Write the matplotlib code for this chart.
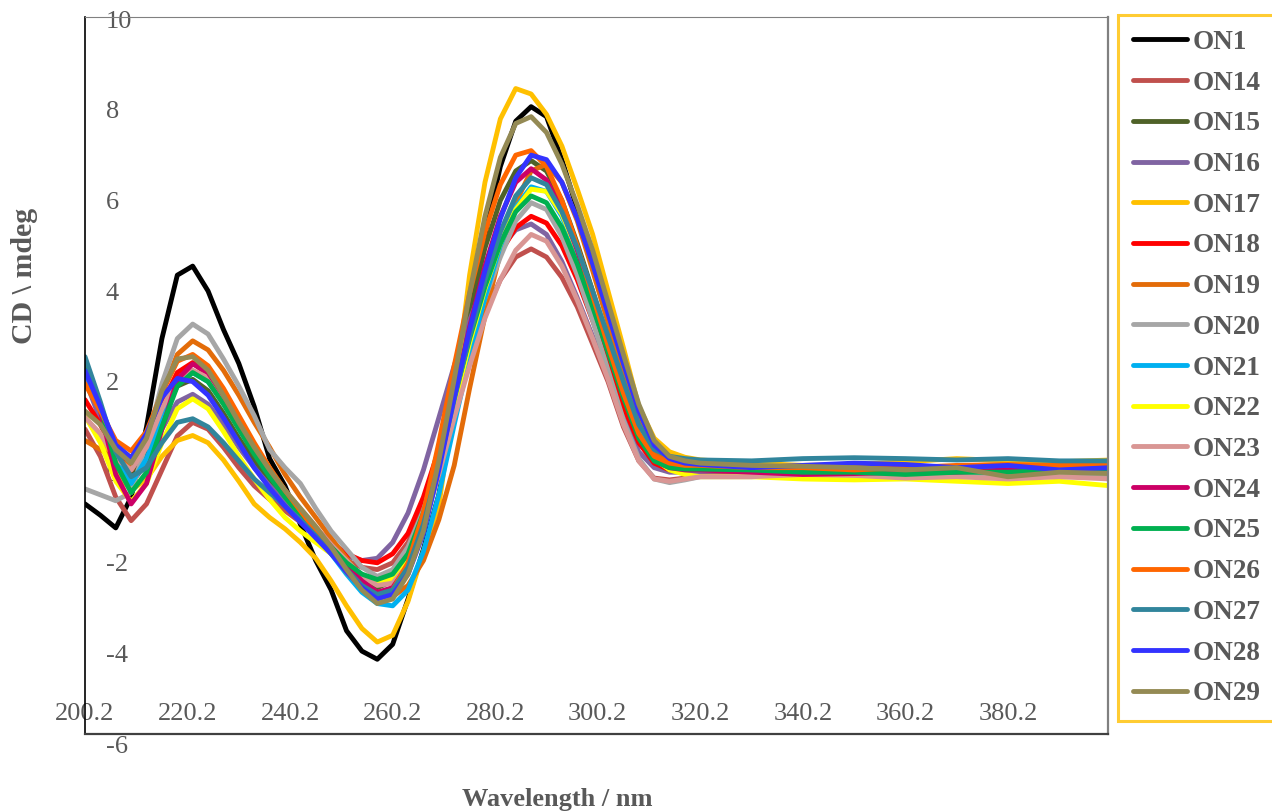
import matplotlib.pyplot as plt
import numpy as np

plt.rcParams['font.family'] = ['Liberation Serif', 'DejaVu Serif']

# longitudes de onda (nm): paso de 3 nm en las bandas, 10 nm en la cola plana
wl = np.concatenate([np.arange(200.2, 320.3, 3.0), np.arange(330.2, 400.3, 10.0)])

nombres = ["ON1", "ON14", "ON15", "ON16", "ON17", "ON18", "ON19", "ON20", "ON21",
           "ON22", "ON23", "ON24", "ON25", "ON26", "ON27", "ON28", "ON29"]
colores = ["#000000", "#C0504D", "#4F6228", "#8064A2", "#FFC000", "#FF0000", "#E36C09",
           "#A6A6A6", "#00B0F0", "#FFFF00", "#D99694", "#CC0066", "#00B050", "#FF6600",
           "#31859C", "#3333FF", "#948A54"]

# CD (mdeg)
on1 = [-0.75, -1.0, -1.28, -0.6, 0.95, 2.9, 4.3, 4.5, 3.95, 3.1, 2.35, 1.4, 0.25, -0.35, -1.2,
       -2.0, -2.65, -3.55, -4.0, -4.18, -3.85, -2.85, -1.75, -0.55, 1.3, 3.3, 5.2, 6.7, 7.7,
       8.02, 7.8, 6.85, 5.75, 4.6, 3.4, 2.2, 1.05, 0.42, 0.18, 0.1, 0.06,
       0.05, 0.0, 0.02, 0.05, 0.0, 0.05, 0.0, 0.05]
on14 = [0.9, 0.3, -0.6, -1.12, -0.75, 0.0, 0.75, 1.05, 0.9, 0.5, 0.05, -0.35, -0.65, -0.9, -1.15,
        -1.45, -1.75, -2.0, -2.15, -2.2, -2.05, -1.6, -0.85, 0.2, 1.35, 2.45, 3.45, 4.2, 4.7,
        4.88, 4.7, 4.25, 3.6, 2.78, 1.95, 0.95, 0.2, -0.18, -0.22, -0.18, -0.12,
        -0.1, -0.08, -0.05, 0.0, 0.05, 0.1, 0.08, 0.12]
on15 = [2.2, 1.3, 0.3, -0.15, 0.4, 1.2, 1.85, 2.0, 1.75, 1.25, 0.7, 0.2, -0.25, -0.6, -0.95,
        -1.3, -1.65, -2.05, -2.4, -2.6, -2.45, -1.95, -1.05, 0.2, 1.9, 3.5, 4.9, 5.95, 6.6,
        6.83, 6.6, 5.95, 5.0, 3.95, 2.85, 1.8, 0.9, 0.35, 0.2, 0.15, 0.12,
        0.1, 0.05, 0.05, 0.08, 0.05, 0.02, 0.05, 0.05]
on16 = [2.0, 1.1, 0.2, -0.3, 0.15, 0.9, 1.5, 1.67, 1.45, 1.0, 0.5, 0.05, -0.35, -0.7, -1.05,
        -1.4, -1.7, -1.9, -2.0, -1.95, -1.6, -0.95, 0.0, 1.15, 2.3, 3.3, 4.2, 4.9, 5.3,
        5.43, 5.2, 4.6, 3.8, 2.95, 2.05, 1.15, 0.4, 0.05, -0.05, -0.05, -0.03,
        0.0, -0.02, 0.0, 0.0, -0.05, 0.0, 0.0, -0.02]
on17 = [1.2, 0.65, -0.05, -0.45, -0.2, 0.3, 0.65, 0.76, 0.6, 0.22, -0.25, -0.75, -1.05, -1.3,
        -1.6, -1.95, -2.45, -3.0, -3.5, -3.8, -3.65, -2.9, -1.8, -0.8, 1.6, 4.3, 6.35, 7.75,
        8.42, 8.3, 7.85, 7.15, 6.2, 5.2, 3.95, 2.7, 1.4, 0.7, 0.4, 0.28, 0.22,
        0.15, 0.1, 0.12, 0.18, 0.25, 0.2, 0.18, 0.22]
on18 = [1.55, 1.0, 0.35, 0.0, 0.55, 1.45, 2.15, 2.37, 2.1, 1.55, 0.95, 0.4, -0.1, -0.55, -0.95,
        -1.3, -1.6, -1.85, -2.0, -2.05, -1.85, -1.4, -0.6, 0.45, 1.7, 2.9, 3.95, 4.8, 5.35,
        5.6, 5.45, 4.95, 4.2, 3.3, 2.35, 1.4, 0.6, 0.15, 0.0, 0.0, 0.02,
        0.0, -0.05, 0.0, -0.03, 0.0, 0.02, 0.0, 0.0]
on19 = [0.65, 0.45, 0.2, 0.1, 0.65, 1.7, 2.55, 2.85, 2.65, 2.2, 1.65, 1.05, 0.5, -0.1, -0.6,
        -1.05, -1.5, -1.95, -2.4, -2.75, -2.8, -2.55, -2.0, -1.1, 0.1, 1.8, 3.4, 4.8, 5.9,
        6.6, 6.75, 6.35, 5.5, 4.4, 3.25, 2.1, 1.05, 0.4, 0.15, 0.1, 0.08,
        0.05, 0.0, 0.05, 0.08, 0.05, 0.1, 0.05, 0.1]
on20 = [-0.42, -0.55, -0.68, -0.5, 0.6, 1.9, 2.9, 3.22, 3.0, 2.45, 1.85, 1.2, 0.45, 0.05, -0.3,
        -0.85, -1.35, -1.75, -2.15, -2.35, -2.2, -1.7, -0.9, 0.25, 1.5, 2.7, 3.8, 4.7, 5.5,
        5.9, 5.75, 5.15, 4.3, 3.3, 2.2, 1.1, 0.25, -0.2, -0.28, -0.22, -0.15,
        -0.15, -0.1, -0.12, -0.15, -0.1, -0.12, -0.15, -0.15]
on21 = [2.2, 1.3, 0.3, -0.3, 0.25, 1.1, 1.9, 2.15, 1.95, 1.5, 1.0, 0.45, -0.05, -0.5, -0.95,
        -1.4, -1.85, -2.3, -2.7, -2.95, -3.0, -2.65, -1.8, -0.55, 1.0, 2.5, 3.8, 4.95, 5.8,
        6.25, 6.15, 5.6, 4.75, 3.75, 2.7, 1.65, 0.75, 0.25, 0.12, 0.08, 0.08,
        0.05, 0.0, 0.0, -0.02, 0.0, 0.02, 0.0, 0.0]
on22 = [1.2, 0.6, -0.25, -0.7, -0.3, 0.6, 1.35, 1.57, 1.35, 0.85, 0.3, -0.2, -0.65, -1.05,
        -1.35, -1.6, -1.85, -2.1, -2.35, -2.5, -2.4, -1.95, -1.1, 0.05, 1.4, 2.8, 4.0, 5.0,
        5.75, 6.2, 6.15, 5.65, 4.85, 3.9, 2.85, 1.8, 0.85, 0.25, 0.0, -0.1, -0.15,
        -0.15, -0.2, -0.22, -0.2, -0.25, -0.3, -0.25, -0.35]
on23 = [1.16, 0.8, 0.25, 0.0, 0.5, 1.35, 2.0, 2.2, 2.05, 1.6, 1.05, 0.5, 0.0, -0.45, -0.85,
        -1.25, -1.65, -2.0, -2.35, -2.55, -2.5, -2.1, -1.25, -0.1, 1.15, 2.3, 3.35, 4.2, 4.85,
        5.2, 5.05, 4.5, 3.75, 2.9, 2.0, 1.0, 0.2, -0.2, -0.25, -0.2, -0.15,
        -0.15, -0.1, -0.12, -0.18, -0.15, -0.2, -0.15, -0.2]
on24 = [2.45, 1.3, -0.1, -0.75, -0.3, 0.9, 2.0, 2.34, 2.15, 1.65, 1.05, 0.45, -0.05, -0.5,
        -0.9, -1.3, -1.7, -2.1, -2.45, -2.7, -2.6, -2.1, -1.15, 0.15, 1.65, 3.15, 4.5, 5.6,
        6.35, 6.65, 6.4, 5.75, 4.85, 3.8, 2.7, 1.65, 0.75, 0.2, 0.05, 0.0, 0.0,
        -0.05, -0.1, -0.08, -0.05, -0.05, 0.0, -0.02, 0.0]
on25 = [2.45, 1.4, 0.15, -0.5, -0.05, 0.95, 1.85, 2.15, 1.95, 1.45, 0.9, 0.35, -0.15, -0.6,
        -1.0, -1.35, -1.7, -2.05, -2.3, -2.42, -2.3, -1.85, -0.95, 0.25, 1.6, 2.9, 4.05, 5.0,
        5.7, 6.05, 5.9, 5.35, 4.55, 3.6, 2.6, 1.6, 0.7, 0.2, 0.05, 0.02, 0.02,
        0.0, -0.05, -0.05, -0.1, -0.05, -0.05, 0.0, -0.05]
on26 = [1.9, 1.3, 0.65, 0.42, 0.85, 1.7, 2.4, 2.55, 2.3, 1.8, 1.2, 0.6, 0.05, -0.45, -0.9,
        -1.35, -1.8, -2.25, -2.6, -2.8, -2.65, -2.05, -0.95, 0.6, 2.3, 3.9, 5.25, 6.3, 6.95,
        7.05, 6.7, 5.95, 4.95, 3.85, 2.75, 1.7, 0.8, 0.3, 0.15, 0.1, 0.1,
        0.05, 0.05, 0.0, 0.05, 0.1, 0.12, 0.1, 0.1]
on27 = [2.5, 1.5, 0.4, -0.15, 0.05, 0.6, 1.05, 1.13, 0.95, 0.6, 0.2, -0.2, -0.5, -0.8, -1.1,
        -1.45, -1.85, -2.2, -2.55, -2.75, -2.65, -2.15, -1.2, 0.1, 1.55, 2.95, 4.2, 5.25,
        6.05, 6.45, 6.3, 5.7, 4.9, 3.95, 2.95, 1.95, 1.0, 0.45, 0.3, 0.25, 0.22,
        0.2, 0.25, 0.27, 0.25, 0.22, 0.25, 0.2, 0.2]
on28 = [2.19, 1.4, 0.55, 0.27, 0.8, 1.6, 2.02, 1.95, 1.65, 1.15, 0.6, 0.05, -0.4, -0.8, -1.15,
        -1.5, -1.85, -2.25, -2.6, -2.85, -2.75, -2.3, -1.4, 0.0, 1.6, 3.1, 4.4, 5.55, 6.45,
        6.95, 6.85, 6.35, 5.55, 4.55, 3.45, 2.35, 1.3, 0.55, 0.25, 0.15, 0.12,
        0.05, 0.1, 0.15, 0.12, 0.05, 0.1, 0.0, 0.05]
on29 = [1.3, 1.0, 0.45, 0.15, 0.7, 1.75, 2.45, 2.5, 2.2, 1.65, 1.05, 0.5, 0.0, -0.45, -0.85,
        -1.25, -1.7, -2.2, -2.65, -2.95, -2.85, -2.3, -1.35, 0.2, 2.0, 3.9, 5.6, 6.9, 7.65,
        7.8, 7.45, 6.75, 5.85, 4.85, 3.7, 2.55, 1.45, 0.65, 0.3, 0.2, 0.15,
        0.1, 0.08, 0.05, 0.0, 0.05, -0.15, -0.05, -0.08]

series = [on1, on14, on15, on16, on17, on18, on19, on20, on21,
          on22, on23, on24, on25, on26, on27, on28, on29]

W, H = 1272, 811
fig = plt.figure(figsize=(W / 100, H / 100), dpi=100)
ax = fig.add_axes([85 / W, 1 - 734 / H, (1108 - 85) / W, (734 - 17) / H])

for y, nombre, color in zip(series, nombres, colores):
    ax.plot(wl, y, color=color, lw=3.5, label=nombre, zorder=2,
            solid_capstyle='round', solid_joinstyle='round')

ax.set_xlim(200.2, 399.7)
ax.set_ylim(-5.83, 10)
ax.set_xticks([])
ax.set_yticks([])
ax.spines['left'].set_color('black')
ax.spines['left'].set_linewidth(1.2)
ax.spines['bottom'].set_color('#404040')
ax.spines['bottom'].set_linewidth(1.6)
ax.spines['top'].set_color('#808080')
ax.spines['right'].set_color('#808080')
ax.spines['right'].set_linewidth(1.6)

gris = '#595959'
# etiquetas de los ejes al estilo Excel (dentro del area, debajo de las curvas)
for x in np.arange(200.2, 380.3, 20):
    ax.text(x, -5.52, f"{x:.1f}", ha='center', va='baseline', fontsize=19,
            color=gris, zorder=1)
for v in range(-6, 11, 2):
    ax.text(0.0205, v - 0.24, str(v), transform=ax.get_yaxis_transform(),
            ha='left', va='baseline', fontsize=19, color=gris, zorder=1)

fig.text(557 / W, 1 - 806 / H, "Wavelength / nm", ha='center', va='baseline',
         fontsize=19, fontweight='bold', color=gris)
fig.text(25 / W, 1 - 276 / H, "CD \\ mdeg", ha='center', va='center', rotation=90,
         fontsize=21.5, fontweight='bold', color=gris)

leg = fig.legend(loc='upper left', bbox_to_anchor=(1118 / W, 1 - 15 / H),
                 frameon=True, fancybox=False, edgecolor='#FFC000',
                 prop={'weight': 'bold', 'size': 19.5}, handlelength=2.0,
                 handletextpad=0.22, labelspacing=0.58, borderpad=0.55,
                 borderaxespad=0)
leg.get_frame().set_linewidth(2.2)
for t in leg.get_texts():
    t.set_color(gris)

fig.savefig("out.png", dpi=100)
